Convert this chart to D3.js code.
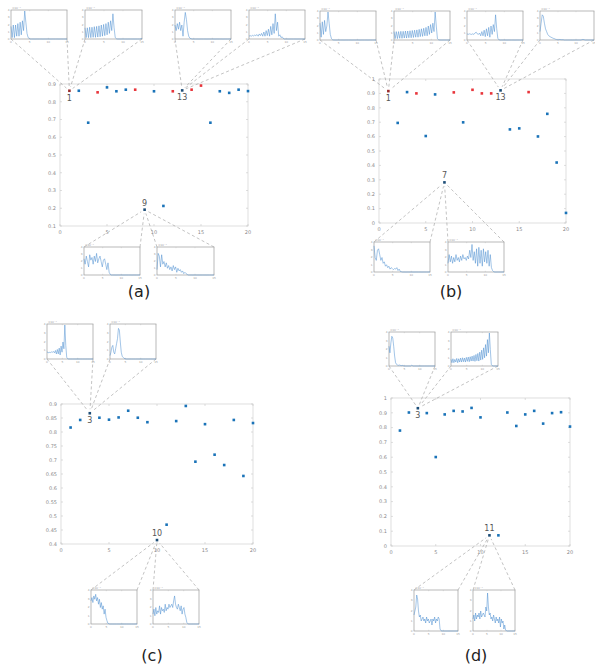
<!DOCTYPE html>
<html>
<head>
<meta charset="utf-8">
<script src="https://cdn.jsdelivr.net/npm/d3@7"></script>
<style>
  body{margin:0;background:#fff;}
  svg{display:block;font-family:"DejaVu Sans",sans-serif;}
</style>
</head>
<body>
<svg id="fig" width="595" height="666"></svg>
<script>
// ---- data ----
const pointIds = [1,2,3,4,5,6,7,8,9,10,11,12,13,14,15,16,17,18,19,20];
const xTicks = [0,5,10,15,20];

const aValues = [0.862,0.862,0.682,0.853,0.881,0.859,0.868,0.868,0.192,0.859,0.213,0.859,0.864,0.868,0.891,0.682,0.859,0.850,0.868,0.860];
const aRed = [1,4,8,12,14,15];
const aMarked = [1,13,9];
const aYTicks = [0.1,0.2,0.3,0.4,0.5,0.6,0.7,0.8,0.9];

const bValues = [0.916,0.695,0.909,0.900,0.604,0.893,0.282,0.907,0.699,0.925,0.900,0.900,0.921,0.650,0.657,0.909,0.601,0.758,0.420,0.070];
const bRed = [1,4,8,10,11,12,16];
const bMarked = [1,13,7];
const bYTicks = [0,0.1,0.2,0.3,0.4,0.5,0.6,0.7,0.8,0.9,1];

const cValues = [0.816,0.843,0.867,0.851,0.844,0.852,0.876,0.851,0.835,0.414,0.469,0.839,0.893,0.694,0.828,0.719,0.682,0.843,0.643,0.832];
const cRed = [];
const cMarked = [3,10];
const cYTicks = [0.4,0.45,0.5,0.55,0.6,0.65,0.7,0.75,0.8,0.85,0.9];

const dValues = [0.780,0.902,0.931,0.898,0.601,0.889,0.913,0.909,0.933,0.869,0.072,0.072,0.902,0.811,0.889,0.913,0.827,0.898,0.904,0.807];
const dRed = [];
const dMarked = [3,11];
const dYTicks = [0,0.1,0.2,0.3,0.4,0.5,0.6,0.7,0.8,0.9,1];

// inset curves (normalised amplitude)
const aTop1 = [0.45,0.05,0.5,0.05,0.5,0.1,0.55,0.1,0.6,0.15,0.65,0.3,1.0,0.6,0.2,0.05,0.02,0,0,0,0,0,0,0,0,0,0,0,0,0,0,0,0,0,0,0,0,0,0,0,0,0,0,0,0,0,0,0,0,0];
const aTop2 = [0.4,0.05,0.4,0.05,0.42,0.05,0.42,0.06,0.44,0.06,0.45,0.07,0.47,0.08,0.5,0.1,0.52,0.12,0.55,0.15,0.6,0.2,0.65,0.3,0.9,0.4,0.05,0.01,0,0,0,0,0,0,0,0,0,0,0,0,0,0,0,0,0,0,0,0,0.01,0.02];
const aTop3 = [0.5,0.3,0.55,0.35,0.6,0.3,0.5,0.1,0.6,0.95,0.7,0.3,0.1,0.03,0.01,0,0,0,0,0,0,0,0,0,0,0,0,0,0,0,0,0,0,0,0,0,0,0,0,0,0,0,0,0,0,0,0,0,0,0];
const aTop4 = [0.1,0.12,0.1,0.13,0.11,0.14,0.12,0.16,0.1,0.18,0.12,0.2,0.1,0.25,0.1,0.3,0.12,0.35,0.1,0.45,0.15,0.55,0.2,0.9,0.3,0.6,0.1,0.15,0.05,0.08,0.02,0,0,0,0,0,0,0,0,0,0,0,0,0,0,0,0,0,0,0];
const aBot1 = [0.6,0.4,0.7,0.5,0.3,0.75,0.55,0.65,0.4,0.7,0.5,0.8,0.45,0.6,0.7,0.5,0.3,0.55,0.6,0.4,0.2,0.45,0.1,0.02,0,0,0,0,0,0,0,0,0,0,0,0,0,0,0,0,0,0,0,0,0,0,0,0,0,0];
const aBot2 = [0.2,0.8,0.7,0.3,0.75,0.4,0.5,0.3,0.45,0.25,0.35,0.2,0.3,0.15,0.35,0.2,0.3,0.1,0.25,0.15,0.2,0.1,0.15,0.05,0.1,0.05,0.02,0,0,0,0,0,0,0,0,0,0,0,0,0,0,0,0,0,0,0,0,0,0,0];

const bTop1 = [0.6,0.1,0.65,0.2,0.7,0.3,0.5,1.0,0.6,0.2,0.05,0.01,0,0,0,0,0,0,0,0,0,0,0,0,0,0,0,0,0,0,0,0,0,0,0,0,0,0,0,0,0,0,0,0,0,0,0,0,0,0];
const bTop2 = [0.3,0.05,0.3,0.05,0.3,0.06,0.31,0.06,0.31,0.07,0.32,0.07,0.32,0.08,0.33,0.08,0.34,0.09,0.35,0.1,0.36,0.1,0.38,0.12,0.4,0.13,0.42,0.15,0.45,0.15,0.5,0.2,0.55,0.25,0.6,0.3,1.0,0.5,0.05,0.01,0,0,0,0,0,0,0,0,0,0];
const bTop3 = [0.22,0.2,0.22,0.21,0.2,0.22,0.2,0.25,0.28,0.22,0.2,0.25,0.15,0.3,0.15,0.35,0.12,0.4,0.15,0.45,0.1,0.5,0.2,0.55,0.3,0.9,0.4,0.05,0.01,0,0,0,0,0,0,0,0,0,0,0,0,0,0,0,0,0,0,0,0,0];
const bTop4 = [0.3,0.6,0.9,0.85,0.6,0.4,0.3,0.2,0.15,0.12,0.1,0.08,0.06,0.05,0.03,0.02,0.01,0.01,0.02,0.01,0.01,0.01,0,0,0,0,0,0,0,0,0,0,0,0,0,0,0,0,0.01,0.02,0.01,0,0,0,0,0,0,0,0,0];
const bBot1 = [0.9,0.5,0.4,0.75,0.8,0.6,0.4,0.5,0.3,0.35,0.2,0.25,0.15,0.2,0.1,0.15,0.12,0.08,0.12,0.1,0.15,0.05,0.1,0.02,0.01,0,0,0,0,0,0,0,0,0,0,0,0,0,0,0,0,0,0,0,0,0,0,0,0,0];
const bBot2 = [0.3,0.6,0.35,0.55,0.3,0.5,0.35,0.6,0.4,0.5,0.35,0.55,0.4,0.6,0.45,0.5,0.4,0.55,0.45,0.75,0.5,0.95,0.4,0.7,0.3,0.8,0.2,0.85,0.3,0.75,0.2,0.8,0.35,0.7,0.3,0.75,0.2,0.6,0.15,0.05,0.01,0,0,0,0,0,0,0,0,0];

const cTop1 = [0.2,0.2,0.18,0.2,0.19,0.21,0.2,0.22,0.18,0.25,0.15,0.28,0.15,0.32,0.12,0.38,0.2,0.5,0.3,1.0,0.4,0.05,0.01,0,0,0,0,0,0,0,0,0,0,0,0,0,0,0,0,0,0,0,0,0,0,0,0,0,0,0];
const cTop2 = [0.1,0.2,0.35,0.4,0.2,0.15,0.3,0.45,0.6,0.9,0.85,0.5,0.2,0.08,0.05,0.02,0.01,0,0,0,0,0,0,0,0,0,0,0,0,0,0,0,0,0,0,0,0,0,0,0,0,0,0,0,0,0,0,0,0,0];
const cBot1 = [0.7,0.8,0.65,0.85,0.75,0.9,0.7,0.8,0.6,0.75,0.5,0.65,0.45,0.55,0.3,0.45,0.2,0.1,0.02,0.01,0,0,0,0,0,0,0,0,0,0,0,0,0,0,0,0,0,0,0,0,0,0,0,0,0,0,0,0,0,0];
const cBot2 = [0.3,0.45,0.25,0.5,0.3,0.4,0.35,0.55,0.3,0.5,0.4,0.45,0.35,0.6,0.4,0.5,0.45,0.6,0.5,0.55,0.6,0.5,0.7,0.85,0.6,0.5,0.45,0.6,0.5,0.4,0.55,0.3,0.45,0.5,0.3,0.2,0.05,0.01,0,0,0,0,0,0,0,0,0,0,0,0];

const dTop1 = [0.6,0.4,0.7,0.9,0.85,0.6,0.3,0.1,0.05,0.03,0.02,0.03,0.02,0.01,0.02,0.01,0,0,0,0,0,0,0,0,0.02,0.01,0,0,0,0,0,0,0,0,0,0,0,0,0,0,0,0,0,0,0,0,0,0,0,0];
const dTop2 = [0.2,0.1,0.22,0.1,0.2,0.12,0.23,0.1,0.22,0.12,0.24,0.12,0.25,0.13,0.24,0.12,0.26,0.14,0.27,0.13,0.28,0.15,0.3,0.15,0.32,0.14,0.35,0.16,0.38,0.15,0.42,0.18,0.48,0.2,0.55,0.25,0.65,0.3,0.8,0.4,1.0,0.5,0.05,0.01,0,0,0,0,0,0];
const dBot1 = [0.4,0.5,0.6,0.9,0.8,0.5,0.35,0.4,0.25,0.3,0.35,0.25,0.3,0.2,0.35,0.25,0.3,0.2,0.25,0.3,0.15,0.3,0.25,0.35,0.2,0.3,0.25,0.35,0.3,0.05,0.01,0,0,0,0,0,0,0,0,0,0,0,0,0,0,0,0,0,0,0];
const dBot2 = [0.3,0.4,0.25,0.45,0.3,0.4,0.35,0.45,0.3,0.5,0.35,0.4,0.45,0.4,0.35,0.6,0.5,0.95,0.6,0.4,0.45,0.3,0.35,0.25,0.4,0.3,0.2,0.35,0.25,0.3,0.2,0.35,0.1,0.3,0.2,0.25,0.05,0.15,0.02,0.01,0,0,0,0,0,0,0,0,0,0];

const insetXLabels = ['0','5','10','15'];
const insetYLabels = ['0','1','2','3','4'];

// ---- layout ----
const panels = [
  {label:'(a)', lx:139, ly:297, values:aValues, red:aRed, marked:aMarked, yTicks:aYTicks,
   box:[60,248,84,226], yDomain:[0.1,0.9], labelBelow:[1,13],
   insets:[{b:[11,67,10,39],c:aTop1,to:1},{b:[85,142,10,39],c:aTop2,to:1},
           {b:[175,231,10,39],c:aTop3,to:13},{b:[249,305,10,39],c:aTop4,to:13},
           {b:[84,140,247,275],c:aBot1,to:9,bottom:true},{b:[157,214,247,275],c:aBot2,to:9,bottom:true}]},
  {label:'(b)', lx:451, ly:297, values:bValues, red:bRed, marked:bMarked, yTicks:bYTicks,
   box:[379,566,79,223], yDomain:[0,1], labelBelow:[1,13],
   insets:[{b:[320,376,11,40],c:bTop1,to:1},{b:[394,450,11,40],c:bTop2,to:1},
           {b:[467,523,11,40],c:bTop3,to:13},{b:[540,594,11,40],c:bTop4,to:13},
           {b:[374,430,242,272],c:bBot1,to:7,bottom:true},{b:[448,504,242,272],c:bBot2,to:7,bottom:true}]},
  {label:'(c)', lx:152, ly:661, values:cValues, red:cRed, marked:cMarked, yTicks:cYTicks,
   box:[61,253,404,544], yDomain:[0.4,0.9], labelBelow:[3],
   insets:[{b:[47,93,324,359],c:cTop1,to:3},{b:[110,156,324,359],c:cTop2,to:3},
           {b:[91,137,590,624],c:cBot1,to:10,bottom:true},{b:[153,199,590,624],c:cBot2,to:10,bottom:true}]},
  {label:'(d)', lx:476, ly:661, values:dValues, red:dRed, marked:dMarked, yTicks:dYTicks,
   box:[391,570,398,546], yDomain:[0,1], labelBelow:[3],
   insets:[{b:[389,435,332,366],c:dTop1,to:3},{b:[451,498,332,366],c:dTop2,to:3},
           {b:[414,458,590,631],c:dBot1,to:11,bottom:true},{b:[473,515,590,631],c:dBot2,to:11,bottom:true}]}
];

const BLUE = '#1a73b8', RED = '#e8353b', DARKRED = '#9b2d2d', DARKBLUE = '#1d4e78';
const svg = d3.select('#fig');

panels.forEach(p => {
  const [x0,x1,y0,y1] = p.box;
  const x = d3.scaleLinear().domain([0,20]).range([x0,x1]);
  const y = d3.scaleLinear().domain(p.yDomain).range([y1,y0]);
  const g = svg.append('g');

  // axes box with ticks on all sides
  g.append('rect').attr('x',x0).attr('y',y0).attr('width',x1-x0).attr('height',y1-y0)
    .attr('fill','none').attr('stroke','#d6d6d6').attr('stroke-width',0.8);
  g.selectAll('.xt').data(xTicks).enter().append('path')
    .attr('d',d=>`M${x(d)},${y1}v-2M${x(d)},${y0}v2`).attr('stroke','#c8c8c8').attr('stroke-width',0.6);
  g.selectAll('.yt').data(p.yTicks).enter().append('path')
    .attr('d',d=>`M${x0},${y(d)}h2M${x1},${y(d)}h-2`).attr('stroke','#c8c8c8').attr('stroke-width',0.6);
  g.selectAll('.xl').data(xTicks).enter().append('text')
    .attr('x',d=>x(d)).attr('y',y1+8).attr('text-anchor','middle')
    .attr('font-size',5).attr('fill','#8a8a8a').text(d=>d);
  g.selectAll('.yl').data(p.yTicks).enter().append('text')
    .attr('x',x0-4).attr('y',d=>y(d)+1.8).attr('text-anchor','end')
    .attr('font-size',5).attr('fill','#8a8a8a').text(d=>d);

  // connectors (dashed) from inset corners to marked points
  p.insets.forEach(ins => {
    const [bx0,bx1,by0,by1] = ins.b;
    const tx = x(ins.to), ty = y(p.values[ins.to-1]);
    const cy = ins.bottom ? by0 : by1;
    [bx0,bx1].forEach(cx => {
      const dx = tx-cx, dy = ty-cy, L = Math.hypot(dx,dy);
      g.append('line').attr('x1',cx).attr('y1',cy)
        .attr('x2',tx-dx/L*4).attr('y2',ty-dy/L*4)
        .attr('stroke','#9a9a9a').attr('stroke-width',0.6).attr('stroke-dasharray','3,2.5');
    });
  });

  // points
  g.selectAll('.pt').data(pointIds).enter().append('rect')
    .attr('x',d=>x(d)-1.3).attr('y',(d,i)=>y(p.values[i])-1.3)
    .attr('width',2.6).attr('height',2.6)
    .attr('fill',d=>{
      const r = p.red.includes(d), m = p.marked.includes(d);
      if (r) return m ? DARKRED : RED;
      return m ? DARKBLUE : BLUE;
    });

  // point labels
  p.marked.forEach(id => {
    const below = p.labelBelow.includes(id);
    g.append('text').attr('x',x(id)).attr('y',y(p.values[id-1]) + (below?10:-4))
      .attr('text-anchor','middle').attr('font-size',8).attr('fill','#555').text(id);
  });

  // insets
  p.insets.forEach(ins => drawInset(g, ins.b, ins.c));

  // panel label
  svg.append('text').attr('x',p.lx).attr('y',p.ly).attr('text-anchor','middle')
    .attr('font-size',16).attr('fill','#222').text(p.label);
});

function drawInset(g, b, curve){
  const [bx0,bx1,by0,by1] = b;
  const ix = d3.scaleLinear().domain([0,curve.length-1]).range([bx0,bx1]);
  const iy = d3.scaleLinear().domain([0,1]).range([by1,by0+1]);
  const gi = g.append('g');
  gi.append('rect').attr('x',bx0).attr('y',by0).attr('width',bx1-bx0).attr('height',by1-by0)
    .attr('fill','#fff').attr('stroke','#a8a8a8').attr('stroke-width',0.8);
  const xs = d3.scaleLinear().domain([0,insetXLabels.length-1]).range([bx0,bx1]);
  const ys = d3.scaleLinear().domain([0,insetYLabels.length-1]).range([by1,by0]);
  gi.selectAll('.ixl').data(insetXLabels).enter().append('text')
    .attr('x',(d,i)=>xs(i)).attr('y',by1+4).attr('text-anchor','middle')
    .attr('font-size',2.8).attr('fill','#999').text(d=>d);
  gi.selectAll('.ixt').data(insetXLabels).enter().append('path')
    .attr('d',(d,i)=>`M${xs(i)},${by1}v-1.2M${xs(i)},${by0}v1.2`).attr('stroke','#bbb').attr('stroke-width',0.4);
  gi.selectAll('.iyl').data(insetYLabels).enter().append('text')
    .attr('x',bx0-1.5).attr('y',(d,i)=>ys(i)+1).attr('text-anchor','end')
    .attr('font-size',2.8).attr('fill','#999').text(d=>d);
  gi.append('text').attr('x',bx0+1).attr('y',by0-1).attr('font-size',2.8).attr('fill','#999').text('×10⁻³');
  gi.append('path').datum(curve)
    .attr('d',d3.line().x((d,i)=>ix(i)).y(d=>iy(d)))
    .attr('fill','none').attr('stroke','#4a8ccf').attr('stroke-width',0.6).attr('stroke-opacity',0.85);
}
</script>
</body>
</html>
